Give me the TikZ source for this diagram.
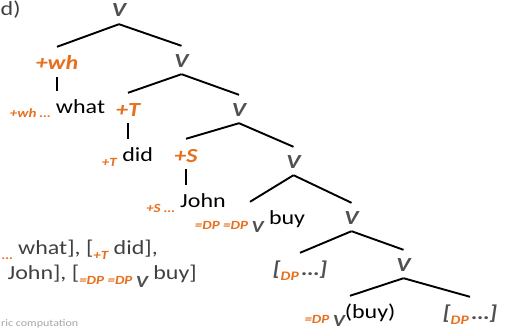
\documentclass[tikz,border=0pt]{standalone}
\usepackage{fontspec}
\setmainfont[FakeStretch=1.2]{Carlito}
\usepackage{xcolor}
\usepackage{tikz}

\definecolor{featorange}{RGB}{230,112,30}
\definecolor{catgrey}{RGB}{80,80,80}
\definecolor{textgrey}{RGB}{64,64,64}

\newcommand{\featsub}[1]{\raisebox{-5pt}{\fontsize{12.5}{14}\selectfont\bfseries\itshape\color{featorange}#1}}
\newcommand{\catsub}{\raisebox{-8pt}{\fontsize{17}{18}\selectfont\bfseries\itshape\color{catgrey}V}}
\newcommand{\dpsub}{\raisebox{-5pt}{\fontsize{13}{14}\selectfont\bfseries\color{featorange}DP}}

\begin{document}
\begin{tikzpicture}[x=1pt, y=-1pt,
    cat/.style={font=\fontsize{20}{24}\selectfont\bfseries\itshape, text=catgrey,
                inner sep=0pt, text height=21pt, text depth=7pt, anchor=base},
    feat/.style={font=\fontsize{20}{24}\selectfont\bfseries\itshape, text=featorange,
                 inner sep=0pt, text height=23pt, text depth=7pt, anchor=base},
    leaf/.style={font=\fontsize{20}{24}\selectfont, text=black,
                 inner sep=0pt, text height=22pt, text depth=5pt, anchor=base},
    gloss/.style={font=\fontsize{20}{24}\selectfont, text=textgrey, inner sep=0pt},
    treeline/.style={line width=1.9pt, draw=black}
]
\useasboundingbox (0,0) rectangle (506,329);

\node[gloss, anchor=base west] (part) at (0.5,16) {d)};

\node[cat] (v0) at (119,17)    {V};
\node[feat] (wh) at (57,70)    {+wh};
\node[leaf] (what) at (57.5,113) {\featsub{+wh …} what};
\node[cat] (v1) at (181.5,67)  {V};
\node[feat] (t) at (128,116)   {+T};
\node[leaf] (did) at (127.5,161) {\featsub{+T} did};
\node[cat] (v2) at (239,116)   {V};
\node[feat] (s) at (186,162)   {+S};
\node[leaf] (john) at (186,207) {\featsub{+S …} John};
\node[cat] (v3) at (293.5,168) {V};
\node[leaf] (buy) at (250,224) {\featsub{=DP =DP }\catsub{} buy};
\node[cat] (v4) at (351.5,224) {V};
\node[leaf, text=catgrey, font=\fontsize{20}{24}\selectfont\bfseries\itshape] (dpa) at (300,275) {[\dpsub\,…]};
\node[cat] (v5) at (403.5,271) {V};
\node[leaf] (buyb) at (350,318) {\featsub{=DP }\catsub{}(buy)};
\node[leaf, text=catgrey, font=\fontsize{20}{24}\selectfont\bfseries\itshape] (dpb) at (470,319) {[\dpsub\,…]};

\draw[treeline] (v0.south) -- (wh.north);
\draw[treeline] (v0.south) -- (v1.north);
\draw[treeline] (wh.south) -- (wh.south |- what.north);
\draw[treeline] (v1.south) -- (t.north);
\draw[treeline] (v1.south) -- (v2.north);
\draw[treeline] (t.south) -- (t.south |- did.north);
\draw[treeline] (v2.south) -- (s.north);
\draw[treeline] (v2.south) -- (v3.north);
\draw[treeline] (s.south) -- (s.south |- john.north);
\draw[treeline] (v3.south) -- (buy.north);
\draw[treeline] (v3.south) -- (v4.north);
\draw[treeline] (v4.south) -- (dpa.north);
\draw[treeline] (v4.south) -- (v5.north);
\draw[treeline] (v5.south) -- (buyb.north);
\draw[treeline] (v5.south) -- (dpb.north);

\node[gloss, anchor=base east] (glossa) at (158,254) {\featsub{…} what], [\featsub{+T} did],};
\node[gloss, anchor=base east] (glossb) at (197,279) {John], [\featsub{=DP =DP }\catsub{} buy]};

\node[font=\fontsize{10}{12}\selectfont, text=gray!70, inner sep=0pt, anchor=base west] (foot) at (1,326) {ric computation};

\end{tikzpicture}
\end{document}
